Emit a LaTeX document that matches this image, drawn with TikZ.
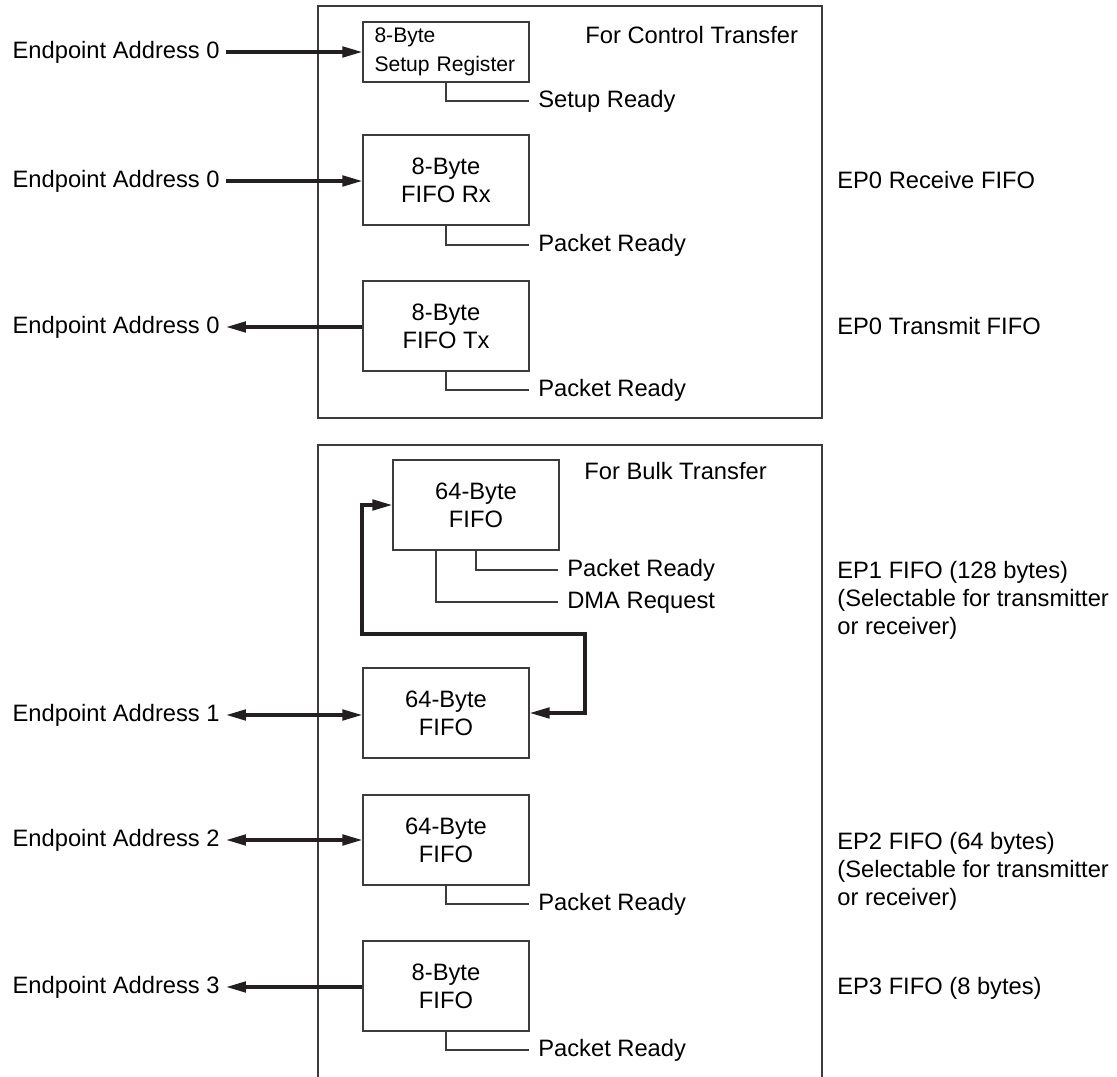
\documentclass[tikz,border=0pt]{standalone}
\usepackage{fontspec}
\setmainfont{Liberation Sans}
\usepackage{tikz}
\usetikzlibrary{arrows.meta,positioning,calc}
\definecolor{eplinegray}{RGB}{60,60,60}
\definecolor{eparrowblack}{RGB}{35,31,32}
\tikzset{
epframe/.style={draw=eplinegray,line width=0.7pt},
epfifo/.style={rectangle,draw=eplinegray,line width=0.7pt,align=center,minimum width=3.32cm,minimum height=1.8cm,inner sep=2pt},
epreg/.style={rectangle,draw=eplinegray,line width=0.7pt,align=left,text width=2.86cm,inner xsep=0.23cm,inner ysep=1pt,minimum height=1.2cm,font=\fontsize{12}{16.5}\selectfont},
eplabel/.style={anchor=east,inner xsep=0.12cm,inner ysep=0pt,text height=0.72em,text depth=0pt},
epsignal/.style={anchor=west,inner xsep=0.18cm,inner ysep=0pt,text height=0.72em,text depth=0pt},
epnote/.style={anchor=west,inner sep=0pt,text height=0.72em,text depth=0pt},
epnotes/.style={anchor=west,inner sep=0pt,align=left},
eptitle/.style={anchor=west,inner sep=0pt,text height=0.72em,text depth=0pt},
eparr/.style={-{Triangle[length=4mm,width=2.1mm]},line width=1.9pt,draw=eparrowblack},
epbiarr/.style={{Triangle[length=4mm,width=2.1mm]}-{Triangle[length=4mm,width=2.1mm]},line width=1.9pt,draw=eparrowblack},
epleader/.style={draw=eplinegray,line width=0.6pt}
}
\begin{document}
\begin{tikzpicture}[
x=0.02cm,
y=-0.02cm,
every node/.style={font=\fontsize{13.5}{16}\selectfont}
]
\useasboundingbox (0,0) rectangle (1117,1077);
\draw[epframe] (318,6) rectangle (822,418);
\draw[epframe] (318,1077) |- (822,445) -- (822,1077);
\node[epreg] (setup) at (446,52) {8-Byte\\Setup Register};
\node[epfifo] (rxfifo) at (446,180) {8-Byte\\FIFO Rx};
\node[epfifo] (txfifo) at (446,326) {8-Byte\\FIFO Tx};
\node[epfifo] (bulkup) at (476,505) {64-Byte\\FIFO};
\node[epfifo] (bulklow) at (446,713) {64-Byte\\FIFO};
\node[epfifo] (bulktwo) at (446,840) {64-Byte\\FIFO};
\node[epfifo] (bulkthree) at (446,986) {8-Byte\\FIFO};
\node[eptitle] (ctltitle) at (585,37) {For Control Transfer};
\node[eptitle] (bulktitle) at (584,473) {For Bulk Transfer};
\node[eplabel] (addr0set) at (226,52) {Endpoint Address 0};
\node[eplabel] (addr0rx) at (226,181) {Endpoint Address 0};
\node[eplabel] (addr0tx) at (226,327) {Endpoint Address 0};
\node[eplabel] (addr1) at (226,715) {Endpoint Address 1};
\node[eplabel] (addr2) at (226,840) {Endpoint Address 2};
\node[eplabel] (addr3) at (226,987) {Endpoint Address 3};
\node[epsignal] (setupready) at (529,101) {Setup Ready};
\node[epsignal] (rxready) at (529,245) {Packet Ready};
\node[epsignal] (txready) at (529,390) {Packet Ready};
\node[epsignal] (bulkready) at (558,570) {Packet Ready};
\node[epsignal] (dmareq) at (558,602) {DMA Request};
\node[epsignal] (twoready) at (529,904) {Packet Ready};
\node[epsignal] (threeready) at (529,1050) {Packet Ready};
\node[epnote] (ep0rx) at (837,182) {EP0 Receive FIFO};
\node[epnote] (ep0tx) at (837,328) {EP0 Transmit FIFO};
\node[epnotes] (ep1note) at (837,600) {EP1 FIFO (128 bytes)\\(Selectable for transmitter\\or receiver)};
\node[epnotes] (ep2note) at (837,871) {EP2 FIFO (64 bytes)\\(Selectable for transmitter\\or receiver)};
\node[epnote] (ep3note) at (837,988) {EP3 FIFO (8 bytes)};
\coordinate (loopright) at (585,634);
\coordinate (loopleft) at (362,634);
\draw[eparr] (addr0set.east) -- (addr0set.east -| setup.west);
\draw[eparr] (addr0rx.east) -- (addr0rx.east -| rxfifo.west);
\draw[eparr] (txfifo.west |- addr0tx.east) -- (addr0tx.east);
\draw[epbiarr] (addr1.east) -- (addr1.east -| bulklow.west);
\draw[epbiarr] (addr2.east) -- (addr2.east -| bulktwo.west);
\draw[eparr] (bulkthree.west |- addr3.east) -- (addr3.east);
\draw[epbiarr] (bulklow.east) -| (loopright) -- (loopleft) |- (bulkup.west);
\draw[epleader] (setup.south) |- (setupready.west);
\draw[epleader] (rxfifo.south) |- (rxready.west);
\draw[epleader] (txfifo.south) |- (txready.west);
\draw[epleader] (bulkup.south) |- (bulkready.west);
\draw[epleader] ($(bulkup.south)+(-40,0)$) |- (dmareq.west);
\draw[epleader] (bulktwo.south) |- (twoready.west);
\draw[epleader] (bulkthree.south) |- (threeready.west);
\end{tikzpicture}
\end{document}
